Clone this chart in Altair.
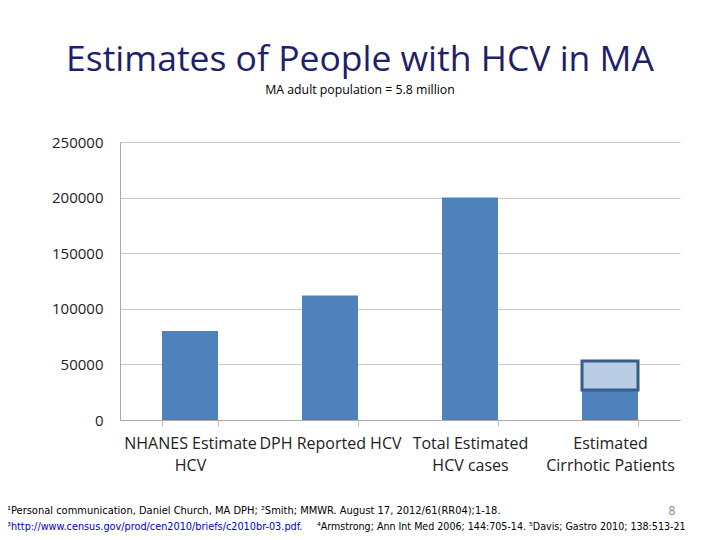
import altair as alt
import pandas as pd

categories = ["NHANES Estimate\nHCV", "DPH Reported HCV", "Total Estimated\nHCV cases", "Estimated\nCirrhotic Patients"]
base_values = [80000, 112000, 200000, 27000]
range_low = [27000]
range_high = [53000]
range_category = [categories[3]]
y_ticks = [0, 50000, 100000, 150000, 200000, 250000]

title_text = "Estimates of People with HCV in MA"
subtitle_text = "MA adult population = 5.8 million"
foot1 = "\u00b9Personal communication, Daniel Church, MA DPH; \u00b2Smith; MMWR. August 17, 2012/61(RR04);1-18."
foot2_link = "\u00b3http://www.census.gov/prod/cen2010/briefs/c2010br-03.pdf."
foot2_rest = "\u2074Armstrong; Ann Int Med 2006; 144:705-14. \u2075Davis; Gastro 2010; 138:513-21"
page_num = "8"

bars = pd.DataFrame({"cat": categories, "v": base_values})
rng = pd.DataFrame({"cat": range_category, "v": range_low, "v2": range_high})

font = "Open Sans"
foot_font = "DejaVu Sans Condensed"
xenc = alt.X("cat:N", sort=categories, title=None,
             scale=alt.Scale(paddingInner=0.6, paddingOuter=0.3),
             axis=alt.Axis(labelExpr="isValid(datum.value) ? split(datum.value, '\\n') : ''", labelAngle=0,
                           labelFontSize=16, labelFont=font, labelColor="#222222",
                           labelPadding=9, labelLineHeight=22,
                           tickBand="extent", tickSize=6, tickColor="#BBBBBB",
                           domainColor="#AAAAAA", grid=False, gridOpacity=0))
yenc = alt.Y("v:Q", title=None,
             scale=alt.Scale(domain=[0, 250000], nice=False),
             axis=alt.Axis(values=y_ticks, format="d", labelFontSize=15, labelFont=font,
                           labelColor="#222222", tickSize=0, labelPadding=17,
                           domainColor="#AAAAAA", gridColor="#C8C8C8"))

bar_layer = alt.Chart(bars).mark_bar(color="#4F81BD").encode(x=xenc, y=yenc)
range_layer = alt.Chart(rng).mark_bar(color="#B9CDE5", stroke="#385D8A", strokeWidth=3).encode(
    x=xenc, y=yenc, y2="v2:Q")

def txt(s, x, y, size, color="#000000", align="center", f=font):
    return alt.Chart(pd.DataFrame({"t": [s]})).mark_text(
        fontSize=size, font=f, color=color, align=align, baseline="middle").encode(
        text="t:N", x=alt.value(x), y=alt.value(y))

title = txt(title_text, 240, -82, 35.5, "#1F1F6B")
subtitle = txt(subtitle_text, 240, -52, 12.3)
f1 = txt(foot1, -113, 369, 11, align="left", f=foot_font)
f2a = txt(foot2_link, -113, 384.5, 10.8, "#0000CC", align="left", f=foot_font)
f2b = txt(foot2_rest, 197, 384.5, 10.6, align="left", f=foot_font)
pn = txt(page_num, 552, 369, 12, "#888888")
underline = alt.Chart(pd.DataFrame({"a": [1]})).mark_rule(color="#0000CC", strokeWidth=1).encode(
    x=alt.value(-113), x2=alt.value(192), y=alt.value(390.5))

chart = alt.layer(bar_layer, range_layer, title, subtitle, f1, f2a, f2b, pn, underline).properties(
    width=560, height=278,
    autosize=alt.AutoSizeParams(type="none"),
    padding={"left": 112, "top": 134, "right": 32, "bottom": 112},
).configure(background="white").configure_view(strokeOpacity=0, strokeWidth=0).configure_axisX(grid=False)

chart.save("out.html", embed_options={"renderer": "svg", "actions": False})
